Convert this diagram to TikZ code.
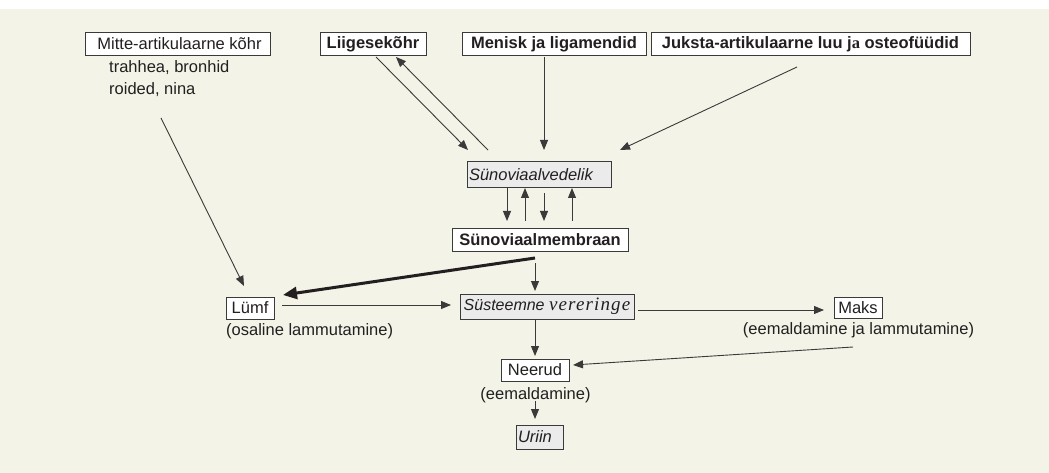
\documentclass[tikz,border=0pt]{standalone}
\usepackage{fontspec}
\setmainfont{Liberation Sans}
\newfontfamily\timesf{Liberation Serif}
\newfontfamily\timesls[LetterSpace=6]{Liberation Serif}
\usetikzlibrary{arrows.meta}
\definecolor{cream}{HTML}{F3F3E7}
\definecolor{boxgray}{HTML}{EBEBEB}
\definecolor{ink}{HTML}{231F20}
\definecolor{linec}{HTML}{3A3A3A}
\begin{document}
\begin{tikzpicture}[x=1pt,y=-1pt,
  font=\fontsize{16.5}{19}\selectfont, text=ink,
  box/.style={draw=linec, line width=1pt, fill=white, inner sep=0pt, minimum width=#1, minimum height=23pt},
  gbox/.style={draw=linec, line width=1pt, fill=boxgray, inner xsep=2pt, inner ysep=0pt, text width=#1, align=left},
  lbl/.style={inner sep=0pt},
  arr/.style={draw=linec, line width=0.9pt, -{Triangle[length=10pt,width=8pt]}},
  thick arr/.style={draw=ink, line width=3pt, -{Triangle[length=14pt,width=12pt]}}]
\useasboundingbox (0,0) rectangle (1049,473);
\fill[white] (0,0) rectangle (1049,473);
\fill[cream] (0,9) rectangle (1049,473);

% top row
\node[box=185pt] (mitte) at (177.5,44) {\hspace{4pt}Mitte-artikulaarne k\~ohr};
\node[box=106pt, font=\fontsize{16.5}{19}\selectfont\bfseries] (liig) at (373,44) {Liigesekõhr};
\node[box=184pt, font=\fontsize{16.5}{19}\selectfont\bfseries] (men) at (554,44) {Menisk ja ligamendid};
\node[box=319pt, font=\fontsize{16.5}{19}\selectfont\bfseries] (juk) at (810.5,44) {Juksta-artikulaarne luu j{\timesf a} osteofüüdid};
\node[lbl, anchor=west] (trah) at (109,68) {trahhea, bronhid};
\node[lbl, anchor=west] (roid) at (109,90) {roided, nina};

% synovial
\node[gbox=140pt, minimum height=26pt, font=\fontsize{16.5}{19}\selectfont\itshape] (sv) at (539,175) {Sünoviaalvedelik};
\node[box=176pt, font=\fontsize{16.5}{19}\selectfont\bfseries] (sm) at (540,239.5) {Sünoviaalmembraan};

% middle row
\node[box=48pt, minimum height=22pt] (lumf) at (250,308) {Lümf};
\node[lbl, anchor=west] (osal) at (226,331) {(osaline lammutamine)};
\node[box=174pt, minimum height=25pt, fill=boxgray] (sys) at (547,306.5) {\itshape\fontsize{16}{19}\selectfont Süsteemne {\timesls\fontsize{19}{19}\selectfont vereringe}};
\node[box=48pt, minimum height=21pt] (maks) at (858,307.5) {Maks};
\node[lbl] (eem) at (858.5,330) {(eemaldamine ja lammutamine)};

% bottom
\node[box=68pt, minimum height=22pt] (neer) at (535,370) {Neerud};
\node[lbl] (eem2) at (535.5,395) {(eemaldamine)};
\node[gbox=43pt, minimum height=24pt, font=\fontsize{16.5}{19}\selectfont\itshape] (uriin) at (539.5,437) {Uriin};

% connectors
\draw[arr] ([shift={(-16.5,74)}]mitte.center) -- ([shift={(-6,-22)}]lumf.center);
\draw[arr] ([shift={(3,13)}]liig.center) -- ([shift={(-71,-25)}]sv.center);
\draw[arr] ([shift={(-51,-25)}]sv.center) -- ([shift={(23,13)}]liig.center);
\draw[arr] ([shift={(-10,13)}]men.center) -- ([shift={(5,-25)}]sv.center);
\draw[arr] ([shift={(-13.5,23)}]juk.center) -- ([shift={(81,-25)}]sv.center);

\draw[arr] ([shift={(-32,13)}]sv.center) -- ([shift={(-33,-18.5)}]sm.center);
\draw[arr] ([shift={(-15,-18.5)}]sm.center) -- ([shift={(-14,13)}]sv.center);
\draw[arr] ([shift={(5,18)}]sv.center) -- ([shift={(4,-18.5)}]sm.center);
\draw[arr] ([shift={(32,-18.5)}]sm.center) -- ([shift={(33,13)}]sv.center);

\draw[thick arr] ([shift={(-5,18.5)}]sm.center) -- ([shift={(33,-13)}]lumf.center);
\draw[arr] ([shift={(-5,23.5)}]sm.center) -- ([shift={(-12,-15.5)}]sys.center);
\draw[arr] ([shift={(32,-3)}]lumf.center) -- ([shift={(-96,-1.5)}]sys.center);
\draw[arr] ([shift={(91,3.5)}]sys.center) -- ([shift={(-34,2.5)}]maks.center);
\draw[arr] ([shift={(-5,39.5)}]maks.center) -- ([shift={(38,-5)}]neer.center);
\draw[arr] ([shift={(-12,12.5)}]sys.center) -- ([shift={(0,-14)}]neer.center);
\draw[arr] ([shift={(0,31)}]neer.center) -- ([shift={(-4.5,-18)}]uriin.center);
\end{tikzpicture}
\end{document}
